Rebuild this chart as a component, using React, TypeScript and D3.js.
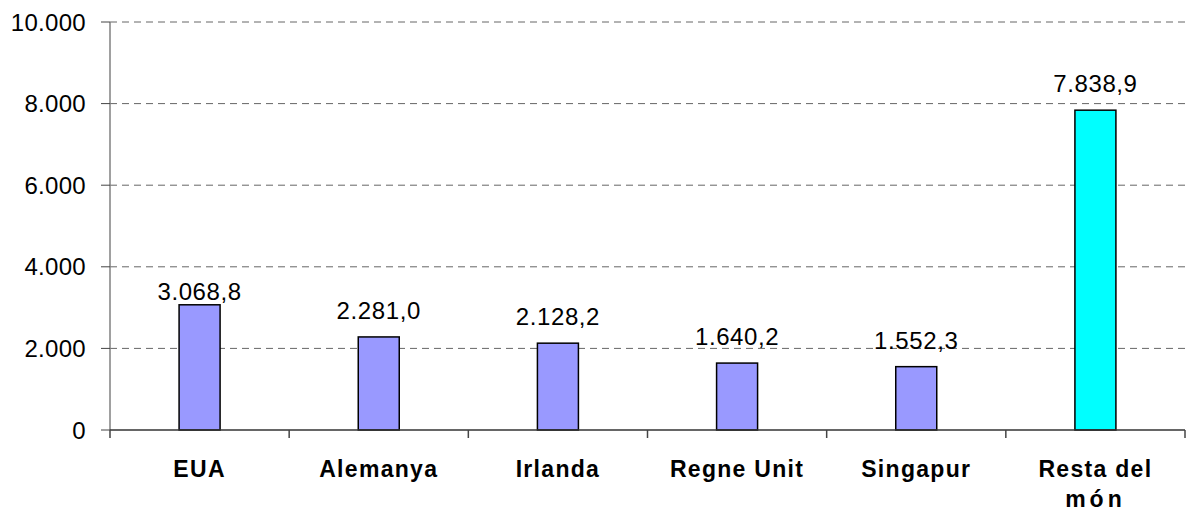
import * as React from "react";
import * as d3 from "d3";

const categories = ["EUA", "Alemanya", "Irlanda", "Regne Unit", "Singapur", "Resta del món"];
const values = [3068.8, 2281.0, 2128.2, 1640.2, 1552.3, 7838.9];
const yTicks = [0, 2000, 4000, 6000, 8000, 10000];

const W = 1186;
const H = 513;
const FONT = "'Liberation Sans', Arial, sans-serif";

// catalan style: 10.000 and 3.068,8
const fmtInt = (v: number) => d3.format(",.0f")(v).replace(/,/g, ".");
const fmtDec = (v: number) => {
  const s = d3.format(",.1f")(v);
  return s.replace(/,/g, "#").replace(".", ",").replace(/#/g, ".");
};

export default function App() {
  const left = 110;
  const right = 1185;
  const top = 22;
  const bottom = 430;

  const x = d3.scaleBand<string>().domain(categories).range([left, right]).paddingInner(0).paddingOuter(0);
  const y = d3.scaleLinear().domain([0, 10000]).range([bottom, top]);
  const barW = 41;

  const labelLines = (c: string) => (c === "Resta del món" ? ["Resta del", "món"] : [c]);

  return (
    <svg width={W} height={H} style={{ position: "absolute", left: 0, top: 0, background: "#fff" }}>
      {/* gridlines */}
      {yTicks.filter((t) => t > 0).map((t) => (
        <line key={"g" + t} x1={left} x2={right} y1={y(t)} y2={y(t)}
          stroke="#666" strokeWidth={1} strokeDasharray="7 5" />
      ))}
      {/* y axis */}
      <line x1={left} x2={left} y1={top} y2={bottom} stroke="#808080" strokeWidth={1.5} />
      {yTicks.map((t) => (
        <g key={"t" + t}>
          <line x1={left - 9} x2={left} y1={y(t)} y2={y(t)} stroke="#444" strokeWidth={1} />
          <text x={86} y={y(t)} dy="0.36em" textAnchor="end" fontFamily={FONT} fontSize={24}
            letterSpacing={0.3} fill="#000">{fmtInt(t)}</text>
        </g>
      ))}
      {/* bars */}
      {categories.map((c, i) => {
        const cx = x(c)! + x.bandwidth() / 2;
        return (
          <g key={c}>
            <rect x={cx - barW / 2} y={y(values[i])} width={barW} height={bottom - y(values[i])}
              fill={i === categories.length - 1 ? "#00FFFF" : "#9999FF"} stroke="#000" strokeWidth={1.5} />
            <text x={cx} y={y(values[i]) - (i === 0 ? 5 : 18)} textAnchor="middle" fontFamily={FONT}
              fontSize={24} letterSpacing={0.6} fill="#000">{fmtDec(values[i])}</text>
          </g>
        );
      })}
      {/* x axis */}
      <line x1={left} x2={right} y1={bottom} y2={bottom} stroke="#333" strokeWidth={1.5} />
      {[...categories.map((c) => x(c)!), right].map((bx, i) => (
        <line key={"xt" + i} x1={bx} x2={bx} y1={bottom} y2={bottom + 8} stroke="#444" strokeWidth={1.5} />
      ))}
      {categories.map((c) => {
        const cx = x(c)! + x.bandwidth() / 2;
        return labelLines(c).map((ln, j) => (
          <text key={c + j} x={cx} y={bottom + 47 + j * 30} textAnchor="middle" fontFamily={FONT}
            fontSize={23} fontWeight="bold" letterSpacing={j === 1 ? 4 : 1.3} fill="#000">{ln}</text>
        ));
      })}
    </svg>
  );
}
